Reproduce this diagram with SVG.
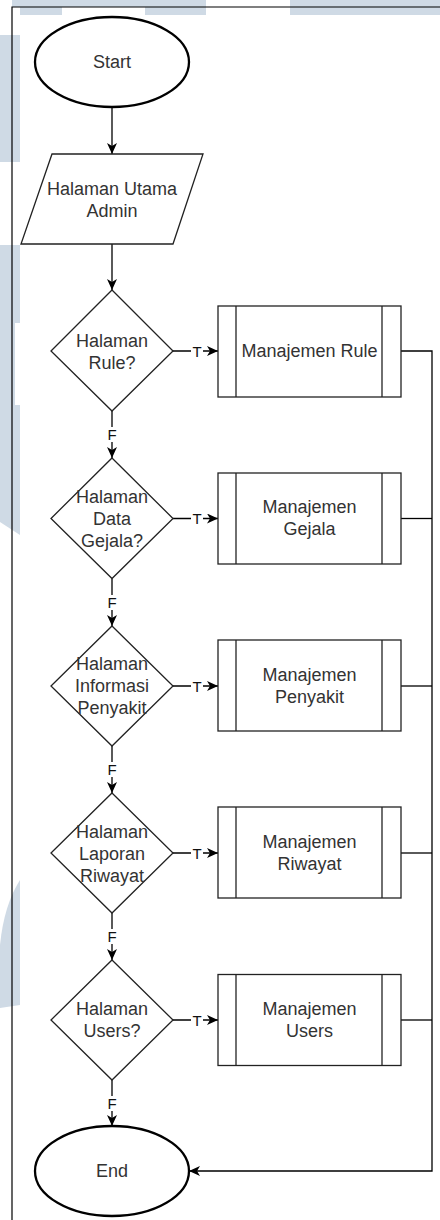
<svg xmlns="http://www.w3.org/2000/svg" width="440" height="1220" viewBox="0 0 440 1220">
  <style>
    .bg { fill: #ffffff; }
    .mark { fill: #cfdae5; }
    .frame { stroke: #000; stroke-width: 1.2; fill: none; }
    .term { fill: #fff; stroke: #000; stroke-width: 2.3; }
    .shape { fill: #fff; stroke: #222; stroke-width: 1.3; }
    .edge { fill: none; stroke: #000; stroke-width: 1.3; }
    .txt { font-family: "Liberation Sans", Arial, Helvetica, sans-serif; font-size: 18px; fill: #333; text-anchor: middle; }
    .lbl { font-family: "Liberation Sans", Arial, Helvetica, sans-serif; font-size: 15px; fill: #111; text-anchor: middle; }
    .lblbg { fill: #fff; }
  </style>
  <defs>
    <marker id="arrow" markerUnits="userSpaceOnUse" markerWidth="12" markerHeight="11" refX="11" refY="5" orient="auto">
      <path d="M0,0 L11,5 L0,10 L3,5 Z" fill="#000"/>
    </marker>
  </defs>

  <rect class="bg" x="0" y="0" width="440" height="1220"/>

  <!-- faint background lettering -->
  <g id="watermark">
    <rect class="mark" x="12" y="0" width="194" height="7"/>
    <rect class="mark" x="20" y="7" width="42" height="8"/>
    <rect class="mark" x="145" y="7" width="61" height="8"/>
    <rect class="mark" x="290" y="0" width="150" height="15"/>
    <rect class="mark" x="0" y="35" width="20" height="127"/>
    <path class="mark" d="M0,245 L20,245 L20,535 L0,522 Z"/>
    <rect fill="#fff" x="15" y="323" width="5" height="82"/>
    <path class="mark" d="M20,880 L20,1005 L0,1008 L0,945 Q4,905 20,880 Z"/>
  </g>

  <!-- page frame -->
  <path class="frame" d="M12,1220 L12,7 L440,7"/>

  <!-- connectors -->
  <g id="connectors">
    <line class="edge" x1="112" y1="107" x2="112" y2="154" marker-end="url(#arrow)"/>
    <line class="edge" x1="112" y1="244" x2="112" y2="290" marker-end="url(#arrow)"/>

    <!-- false branches -->
    <line class="edge" x1="112" y1="411" x2="112" y2="458" marker-end="url(#arrow)"/>
    <line class="edge" x1="112" y1="578.5" x2="112" y2="626" marker-end="url(#arrow)"/>
    <line class="edge" x1="112" y1="746" x2="112" y2="793" marker-end="url(#arrow)"/>
    <line class="edge" x1="112" y1="913" x2="112" y2="960" marker-end="url(#arrow)"/>
    <line class="edge" x1="112" y1="1080" x2="112" y2="1126" marker-end="url(#arrow)"/>

    <!-- true branches -->
    <line class="edge" x1="173" y1="351" x2="218" y2="351" marker-end="url(#arrow)"/>
    <line class="edge" x1="173" y1="518.5" x2="218" y2="518.5" marker-end="url(#arrow)"/>
    <line class="edge" x1="173" y1="686" x2="218" y2="686" marker-end="url(#arrow)"/>
    <line class="edge" x1="173" y1="853" x2="218" y2="853" marker-end="url(#arrow)"/>
    <line class="edge" x1="173" y1="1020" x2="218" y2="1020" marker-end="url(#arrow)"/>

    <!-- returns to End -->
    <path class="edge" d="M401,351 L432,351 L432,1171 L189,1171" marker-end="url(#arrow)"/>
    <line class="edge" x1="401" y1="518.5" x2="432" y2="518.5"/>
    <line class="edge" x1="401" y1="686" x2="432" y2="686"/>
    <line class="edge" x1="401" y1="853" x2="432" y2="853"/>
    <line class="edge" x1="401" y1="1020" x2="432" y2="1020"/>

    <!-- branch labels -->
    <rect class="lblbg" x="191" y="344" width="12" height="14"/>
    <text class="lbl" x="197" y="356.5">T</text>
    <rect class="lblbg" x="191" y="511.5" width="12" height="14"/>
    <text class="lbl" x="197" y="524">T</text>
    <rect class="lblbg" x="191" y="679" width="12" height="14"/>
    <text class="lbl" x="197" y="691.5">T</text>
    <rect class="lblbg" x="191" y="846" width="12" height="14"/>
    <text class="lbl" x="197" y="858.5">T</text>
    <rect class="lblbg" x="191" y="1013" width="12" height="14"/>
    <text class="lbl" x="197" y="1025.5">T</text>

    <rect class="lblbg" x="106" y="427" width="12" height="15"/>
    <text class="lbl" x="112" y="440">F</text>
    <rect class="lblbg" x="106" y="595" width="12" height="15"/>
    <text class="lbl" x="112" y="608">F</text>
    <rect class="lblbg" x="106" y="762" width="12" height="15"/>
    <text class="lbl" x="112" y="775">F</text>
    <rect class="lblbg" x="106" y="929" width="12" height="15"/>
    <text class="lbl" x="112" y="942">F</text>
    <rect class="lblbg" x="106" y="1096" width="12" height="15"/>
    <text class="lbl" x="112" y="1109">F</text>
  </g>

  <g id="start">
    <ellipse class="term" cx="112" cy="62" rx="77" ry="45"/>
    <text class="txt" x="112" y="68">Start</text>
  </g>

  <g id="halaman-utama">
    <polygon class="shape" points="52,154 203,154 173,244 21,244"/>
    <text class="txt" x="112" y="194.5">Halaman Utama</text>
    <text class="txt" x="112" y="216.5">Admin</text>
  </g>

  <g id="cek-rule">
    <polygon class="shape" points="112,290 173,351 112,411 51,351"/>
    <text class="txt" x="112" y="347">Halaman</text>
    <text class="txt" x="112" y="369">Rule?</text>
  </g>

  <g id="cek-gejala">
    <polygon class="shape" points="112,458 173,518.5 112,578.5 51,518.5"/>
    <text class="txt" x="112" y="503">Halaman</text>
    <text class="txt" x="112" y="525">Data</text>
    <text class="txt" x="112" y="547">Gejala?</text>
  </g>

  <g id="cek-penyakit">
    <polygon class="shape" points="112,626 173,686 112,746 51,686"/>
    <text class="txt" x="112" y="670">Halaman</text>
    <text class="txt" x="112" y="692">Informasi</text>
    <text class="txt" x="112" y="714">Penyakit</text>
  </g>

  <g id="cek-riwayat">
    <polygon class="shape" points="112,793 173,853 112,913 51,853"/>
    <text class="txt" x="112" y="838">Halaman</text>
    <text class="txt" x="112" y="860">Laporan</text>
    <text class="txt" x="112" y="882">Riwayat</text>
  </g>

  <g id="cek-users">
    <polygon class="shape" points="112,960 173,1020 112,1080 51,1020"/>
    <text class="txt" x="112" y="1015">Halaman</text>
    <text class="txt" x="112" y="1037">Users?</text>
  </g>

  <g id="manajemen-rule">
    <rect class="shape" x="218" y="306" width="183" height="91"/>
    <line class="shape" x1="236" y1="306" x2="236" y2="397"/>
    <line class="shape" x1="382" y1="306" x2="382" y2="397"/>
    <text class="txt" x="309.5" y="357">Manajemen Rule</text>
  </g>

  <g id="manajemen-gejala">
    <rect class="shape" x="218" y="473" width="183" height="91"/>
    <line class="shape" x1="236" y1="473" x2="236" y2="564"/>
    <line class="shape" x1="382" y1="473" x2="382" y2="564"/>
    <text class="txt" x="309.5" y="513">Manajemen</text>
    <text class="txt" x="309.5" y="535">Gejala</text>
  </g>

  <g id="manajemen-penyakit">
    <rect class="shape" x="218" y="640" width="183" height="91"/>
    <line class="shape" x1="236" y1="640" x2="236" y2="731"/>
    <line class="shape" x1="382" y1="640" x2="382" y2="731"/>
    <text class="txt" x="309.5" y="680.5">Manajemen</text>
    <text class="txt" x="309.5" y="702.5">Penyakit</text>
  </g>

  <g id="manajemen-riwayat">
    <rect class="shape" x="218" y="807" width="183" height="91"/>
    <line class="shape" x1="236" y1="807" x2="236" y2="898"/>
    <line class="shape" x1="382" y1="807" x2="382" y2="898"/>
    <text class="txt" x="309.5" y="848">Manajemen</text>
    <text class="txt" x="309.5" y="870">Riwayat</text>
  </g>

  <g id="manajemen-users">
    <rect class="shape" x="218" y="974.5" width="183" height="91"/>
    <line class="shape" x1="236" y1="974.5" x2="236" y2="1065.5"/>
    <line class="shape" x1="382" y1="974.5" x2="382" y2="1065.5"/>
    <text class="txt" x="309.5" y="1015">Manajemen</text>
    <text class="txt" x="309.5" y="1037">Users</text>
  </g>

  <g id="end">
    <ellipse class="term" cx="112" cy="1171" rx="77" ry="45"/>
    <text class="txt" x="112" y="1177">End</text>
  </g>
</svg>
